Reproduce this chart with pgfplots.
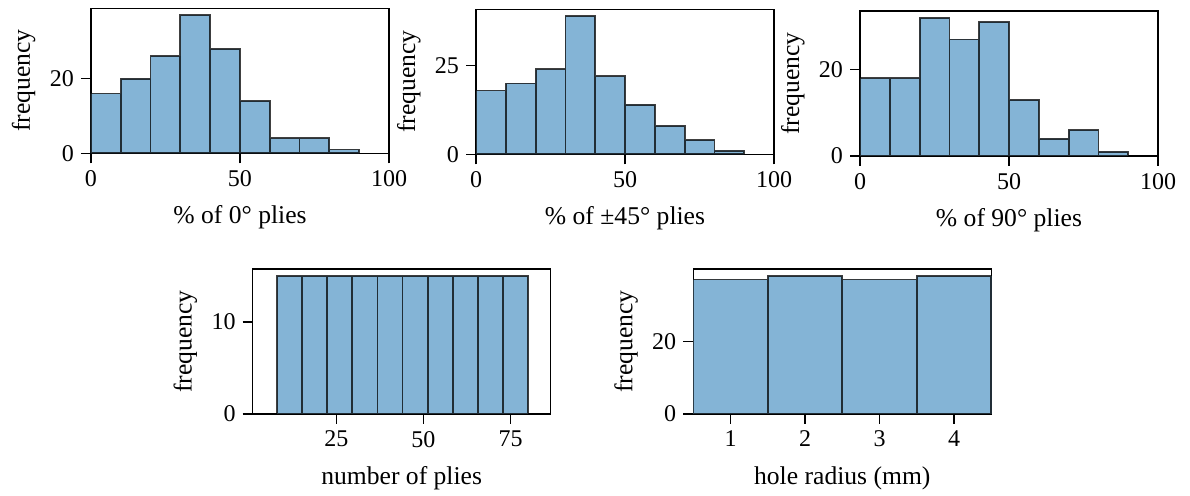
\documentclass[border=0pt]{standalone}
\usepackage{fontspec}
\setmainfont{Liberation Serif}
\usepackage{pgfplots}
\pgfplotsset{compat=1.18}
\definecolor{barfill}{RGB}{132,180,214}
\pgfplotsset{
 hist/.style={
  scale only axis, width=149pt, height=72.5pt,
  ymin=0,
  axis line style={line width=0.7pt},
  tick align=outside, xtick pos=bottom, ytick pos=left,
  major tick length=5pt, tick style={black, line width=0.7pt},
  /pgf/number format/assume math mode=true,
  ticklabel style={font=\fontsize{12}{14}\selectfont},
  ylabel={frequency},
  every axis y label/.style={at={([xshift=-30.5pt]axis description cs:0,0.5)}, rotate=90, anchor=base, font=\fontsize{12.8}{15}\selectfont},
  every axis x label/.style={at={([yshift=-35.3pt]axis description cs:0.5,0)}, anchor=base, font=\fontsize{12.8}{15}\selectfont},
 },
 bars/.style={ybar interval, fill=barfill, draw=black, draw opacity=0.75, line width=0.9pt}
}
\begin{document}
\begin{tikzpicture}
\useasboundingbox (0,0) rectangle (595pt,248pt);
% plot 1
\begin{axis}[hist, at={(45.5pt,171.35pt)}, anchor=south west,
  xmin=0, xmax=100, ymax=38.85, xtick={0,50,100}, ytick={0,20},
  xlabel={\% of 0° plies}]
\addplot[bars] coordinates {(0,16)(10,20)(20,26)(30,37)(40,28)(50,14)(60,4)(70,4)(80,1)(90,1)};
\end{axis}
% plot 2
\begin{axis}[hist, at={(238pt,170.85pt)}, anchor=south west,
  xmin=0, xmax=100, ymax=40.95, xtick={0,50,100}, ytick={0,25},
  xlabel={\% of ±45° plies}]
\addplot[bars] coordinates {(0,18)(10,20)(20,24)(30,39)(40,22)(50,14)(60,8)(70,4)(80,1)(90,1)};
\end{axis}
% plot 3
\begin{axis}[hist, at={(430pt,170pt)}, anchor=south west,
  xmin=0, xmax=100, ymax=33.6, xtick={0,50,100}, ytick={0,20},
  xlabel={\% of 90° plies}]
\addplot[bars] coordinates {(0,18)(10,18)(20,32)(30,27)(40,31)(50,13)(60,4)(70,6)(80,1)(90,1)};
\end{axis}
% plot 4
\begin{axis}[hist, at={(126.35pt,41pt)}, anchor=south west,
  xmin=1, xmax=86.5, ymax=15.75, xtick={25,50,75}, ytick={0,10},
  xlabel={number of plies}]
\addplot[bars] coordinates {(8,15)(15.2,15)(22.4,15)(29.6,15)(36.8,15)(44,15)(51.2,15)(58.4,15)(65.6,15)(72.8,15)(80,15)};
\end{axis}
% plot 5
\begin{axis}[hist, at={(346.65pt,41pt)}, anchor=south west,
  xmin=0.5, xmax=4.5, ymax=39.9, xtick={1,2,3,4}, ytick={0,20},
  xlabel={hole radius (mm)}]
\addplot[bars] coordinates {(0.5,37)(1.5,38)(2.5,37)(3.5,38)(4.5,38)};
\end{axis}
\end{tikzpicture}
\end{document}
